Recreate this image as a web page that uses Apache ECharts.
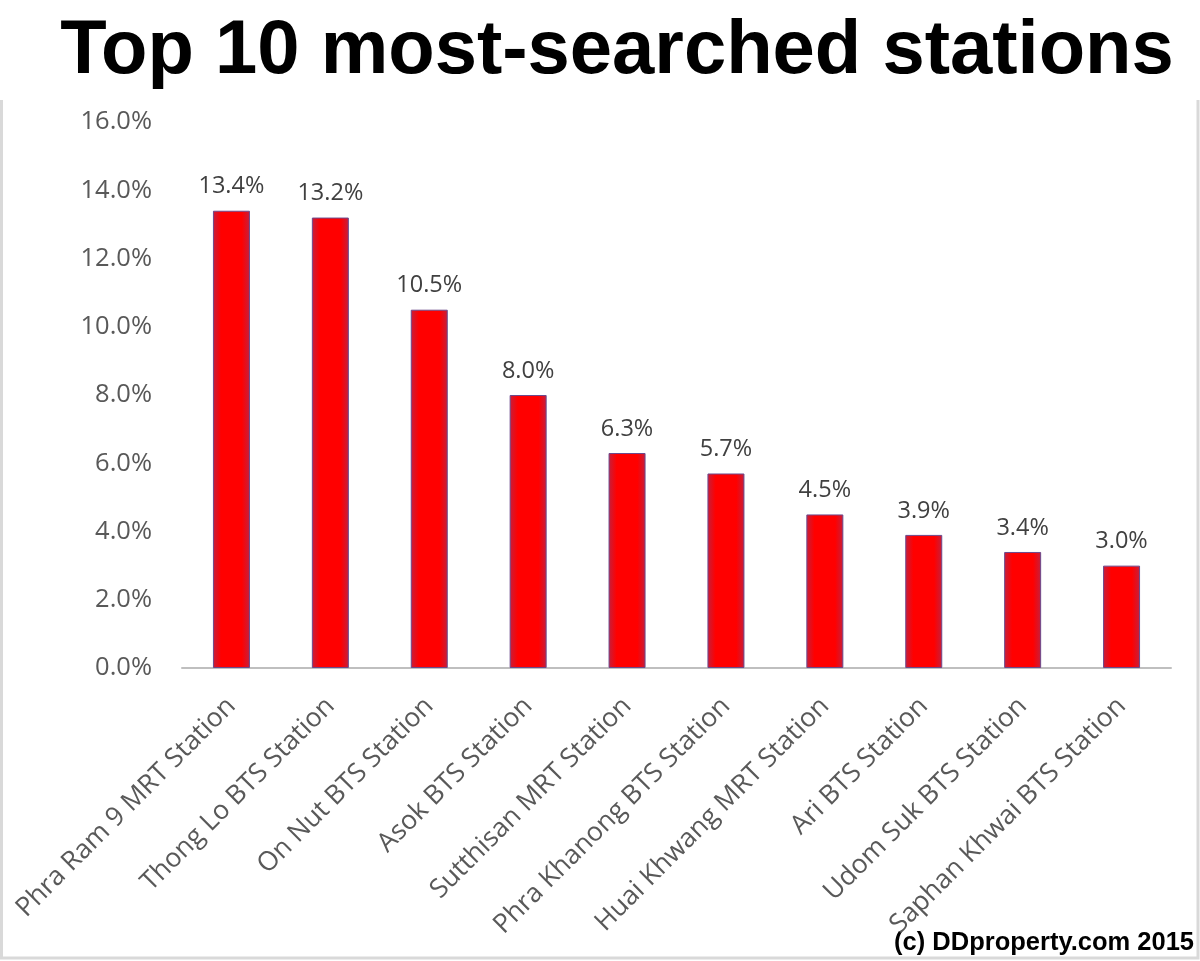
<!DOCTYPE html>
<html>
<head>
<meta charset="utf-8">
<script src="https://cdn.jsdelivr.net/npm/echarts@6/dist/echarts.min.js"></script>
<style>html,body{margin:0;padding:0;background:#fff}#c{width:1200px;height:961px}</style>
</head>
<body>
<div id="c"></div>
<script>
const categories = ["Phra Ram 9 MRT Station","Thong Lo BTS Station","On Nut BTS Station","Asok BTS Station","Sutthisan MRT Station","Phra Khanong BTS Station","Huai Khwang MRT Station","Ari BTS Station","Udom Suk BTS Station","Saphan Khwai BTS Station"];
const values = [13.4, 13.2, 10.5, 8.0, 6.3, 5.7, 4.5, 3.9, 3.4, 3.0];
const yTicks = {min: 0, max: 16, interval: 2};
const titleText = "Top 10 most-searched stations";
const creditText = "(c) DDproperty.com 2015";

const chart = echarts.init(document.getElementById('c'));
chart.setOption({
  animation: false,
  backgroundColor: '#fff',
  title: {
    text: titleText,
    left: 612, top: 9, textAlign: 'center',
    textStyle: {fontFamily: 'Liberation Sans', fontWeight: 'bold', fontSize: 76, color: '#000'}
  },
  graphic: [
    {type: 'polyline', shape: {points: [[1.5, 100], [1.5, 958], [1198, 958], [1198, 100]]},
     style: {stroke: '#d9d9d9', lineWidth: 3, fill: null}, silent: true},
    {type: 'text', right: 6, bottom: 5,
     style: {text: creditText, font: 'bold 25.5px "Liberation Sans"', fill: '#000'}}
  ],
  grid: {left: 182, right: 29, top: 122, bottom: 293},
  xAxis: {
    type: 'category', data: categories,
    axisLine: {lineStyle: {color: '#bfbfbf', width: 2}},
    axisTick: {show: false},
    axisLabel: {rotate: 45, interval: 0, margin: 34, fontFamily: 'Open Sans', fontSize: 26.5, color: '#595959'}
  },
  yAxis: {
    type: 'value', min: yTicks.min, max: yTicks.max, interval: yTicks.interval,
    axisLine: {show: false}, axisTick: {show: false}, splitLine: {show: false},
    axisLabel: {margin: 30, fontFamily: 'Open Sans', fontSize: 25.5, color: '#595959',
      formatter: v => v.toFixed(1) + '%'}
  },
  series: [{
    type: 'bar', data: values, barWidth: 37,
    itemStyle: {
      color: new echarts.graphic.LinearGradient(0, 0, 1, 0, [
        {offset: 0, color: '#c4203e'}, {offset: 0.22, color: '#ff0000'},
        {offset: 0.78, color: '#ff0000'}, {offset: 1, color: '#c4203e'}
      ]),
      borderColor: '#6b4a8c', borderWidth: 1
    },
    label: {show: true, position: 'top', distance: 12, fontFamily: 'Open Sans', fontSize: 23.5, color: '#404040',
      formatter: p => p.value.toFixed(1) + '%'}
  }]
});
</script>
</body>
</html>
